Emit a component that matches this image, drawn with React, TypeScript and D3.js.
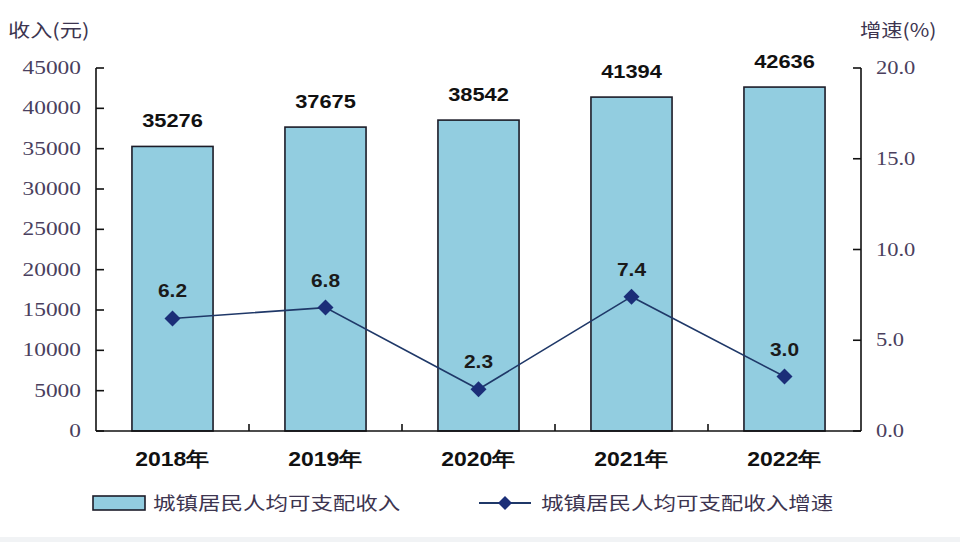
import React from "react";
import * as d3 from "d3";

const years = ["2018年", "2019年", "2020年", "2021年", "2022年"];
const income = [35276, 37675, 38542, 41394, 42636];
const growth = [6.2, 6.8, 2.3, 7.4, 3.0];
const leftTicks = [0, 5000, 10000, 15000, 20000, 25000, 30000, 35000, 40000, 45000];
const rightTicks = [0, 5, 10, 15, 20];
const legendBar = "城镇居民人均可支配收入";
const legendLine = "城镇居民人均可支配收入增速";
const leftTitle = "收入(元)";
const rightTitle = "增速(%)";

const W = 960, H = 542;
const X0 = 96, X1 = 861, Y0 = 431, Y1 = 68;
const CJK = "'Noto Sans CJK SC', sans-serif";
const SERIF = "'Liberation Serif', 'DejaVu Serif', serif";
const SANS = "'Liberation Sans', Arial, sans-serif";
const TICK_COLOR = "#4a3f5e";
const BAR_FILL = "#92CDE0";
const LINE_COLOR = "#1f3868";
const MARK_COLOR = "#1b2e78";

function T(props: any) {
  const { x, y, sx = 1.18, children, ...rest } = props;
  return (
    <text transform={`translate(${x},${y}) scale(${sx},1)`} {...rest}>
      {children}
    </text>
  );
}

export default function App() {
  const x = d3.scaleBand<string>().domain(years).range([X0, X1]).paddingInner(0.47).paddingOuter(0.235);
  const band = d3.scaleBand<string>().domain(years).range([X0, X1]);
  const yL = d3.scaleLinear().domain([0, 45000]).range([Y0, Y1]);
  const yR = d3.scaleLinear().domain([0, 20]).range([Y0, Y1]);
  const cx = (d: string) => (band(d) as number) + band.bandwidth() / 2;
  const line = d3.line<number>().x((_, i) => cx(years[i])).y((v) => yR(v));
  const diamond = (px: number, py: number, r = 8) =>
    `M${px},${py - r}L${px + r},${py}L${px},${py + r}L${px - r},${py}Z`;

  return (
    <svg width={W} height={H} style={{ position: "absolute", left: 0, top: 0, background: "#fff" }}>
      <rect x={0} y={0} width={W} height={H} fill="#fff" />
      <rect x={0} y={537} width={W} height={5} fill="#f1f3f5" />
      {/* titles */}
      <T x={8} y={37} sx={1.2} fontFamily={CJK} fontSize={18.5} fill="#3d3550">{leftTitle}</T>
      <T x={860} y={37} sx={1.15} fontFamily={CJK} fontSize={18.5} fill="#3d3550">{rightTitle}</T>

      {/* bars */}
      {years.map((d, i) => (
        <g key={d}>
          <rect
            x={x(d)}
            y={yL(income[i])}
            width={x.bandwidth()}
            height={Y0 - yL(income[i])}
            fill={BAR_FILL}
            stroke="#1c1c28"
            strokeWidth={1.6}
          />
          <T x={cx(d)} y={yL(income[i]) - 19} sx={1.15} textAnchor="middle" fontFamily={SANS} fontWeight="bold" fontSize={19} fill="#111">
            {income[i]}
          </T>
          <T x={cx(d)} y={466} sx={1.15} textAnchor="middle" fontFamily={SANS} fontWeight="bold" fontSize={20} fill="#111">
            {d}
          </T>
        </g>
      ))}

      {/* axes */}
      <line x1={X0} y1={Y1} x2={X0} y2={Y0} stroke="#111" strokeWidth={1.6} />
      <line x1={X1} y1={Y1} x2={X1} y2={Y0} stroke="#111" strokeWidth={1.6} />
      <line x1={X0} y1={Y0} x2={X1} y2={Y0} stroke="#111" strokeWidth={1.6} />
      {leftTicks.map((t) => (
        <g key={t}>
          <line x1={X0} x2={X0 + 8} y1={yL(t)} y2={yL(t)} stroke="#111" strokeWidth={1.6} />
          <T x={81} y={yL(t) + 6} sx={1.3} textAnchor="end" fontFamily={SERIF} fontSize={18} fill={TICK_COLOR}>
            {t}
          </T>
        </g>
      ))}
      {rightTicks.map((t) => (
        <g key={t}>
          <line x1={X1 - 8} x2={X1} y1={yR(t)} y2={yR(t)} stroke="#111" strokeWidth={1.6} />
          <T x={876} y={yR(t) + 6} sx={1.25} fontFamily={SERIF} fontSize={18} fill={TICK_COLOR}>
            {t.toFixed(1)}
          </T>
        </g>
      ))}
      {years.slice(1).map((d) => (
        <line key={d} x1={band(d)} x2={band(d)} y1={Y0} y2={Y0 - 7} stroke="#111" strokeWidth={1.6} />
      ))}

      {/* line */}
      <path d={line(growth) as string} fill="none" stroke={LINE_COLOR} strokeWidth={1.6} />
      {growth.map((v, i) => (
        <g key={i}>
          <path d={diamond(cx(years[i]), yR(v))} fill={MARK_COLOR} />
          <T x={cx(years[i])} y={yR(v) - 21} sx={1.1} textAnchor="middle" fontFamily={SANS} fontWeight="bold" fontSize={19} fill="#1a1a1a">
            {v.toFixed(1)}
          </T>
        </g>
      ))}

      {/* legend */}
      <rect x={93} y={496} width={52} height={14} fill={BAR_FILL} stroke="#1c1c28" strokeWidth={1.6} />
      <T x={153} y={510} sx={1.25} fontFamily={CJK} fontSize={18} fill="#3d3550">{legendBar}</T>
      <line x1={479} x2={531} y1={503} y2={503} stroke={LINE_COLOR} strokeWidth={2} />
      <path d={diamond(505, 503, 7)} fill={MARK_COLOR} />
      <T x={541} y={510} sx={1.25} fontFamily={CJK} fontSize={18} fill="#3d3550">{legendLine}</T>
    </svg>
  );
}
